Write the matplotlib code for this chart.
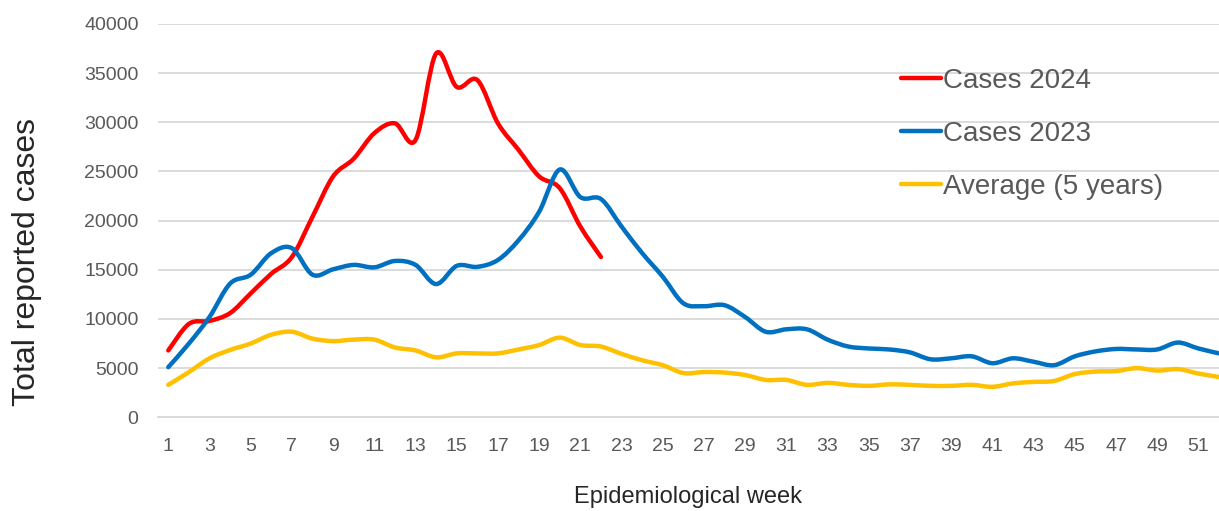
import matplotlib
matplotlib.use("Agg")
import matplotlib.pyplot as plt
from matplotlib.path import Path
from matplotlib.patches import PathPatch
from matplotlib.lines import Line2D
import numpy as np

plt.rcParams['font.family'] = ['Liberation Sans', 'DejaVu Sans']

weeks = list(range(1, 53))
tick_weeks = list(range(1, 52, 2))

cases_2024 = [6800, 9500, 9800, 10600, 12600, 14600, 16300, 20400, 24500, 26300,
              28900, 29900, 28200, 37000, 33600, 34300, 29900, 27200, 24500, 23300,
              19400, 16300]

cases_2023 = [5100, 7500, 10200, 13600, 14500, 16700, 17200, 14500, 15050, 15500,
              15250, 15900, 15500, 13550, 15400, 15300, 16000, 18000, 20900, 25200,
              22400, 22200, 19400, 16700, 14300, 11600, 11300, 11400, 10200, 8700,
              8950, 8950, 7900, 7200, 7000, 6900, 6600, 5900, 6000, 6200,
              5500, 6000, 5650, 5300, 6200, 6700, 6950, 6900, 6900, 7600,
              7000, 6500]

average_5y = [3300, 4600, 6000, 6850, 7500, 8400, 8700, 8000, 7750, 7900,
              7900, 7100, 6800, 6100, 6500, 6500, 6500, 6900, 7350, 8100,
              7350, 7200, 6450, 5800, 5300, 4500, 4600, 4550, 4300, 3800,
              3800, 3300, 3500, 3300, 3200, 3350, 3300, 3200, 3200, 3300,
              3100, 3450, 3600, 3700, 4400, 4650, 4700, 5000, 4750, 4900,
              4450, 4100]

labels = ["Cases 2024", "Cases 2023", "Average (5 years)"]
colors = ["#FF0000", "#0070C0", "#FFC000"]


def smooth_path(x, y):
    # Excel-style smoothed line: cubic Bezier segments through the data points
    pts = np.column_stack([x, y]).astype(float)
    n = len(pts)
    verts = [pts[0]]
    codes = [Path.MOVETO]
    for i in range(n - 1):
        p_prev = pts[i - 1] if i > 0 else pts[i]
        p0 = pts[i]
        p1 = pts[i + 1]
        p_next = pts[i + 2] if i + 2 < n else pts[i + 1]
        c1 = p0 + (p1 - p_prev) / 6.0
        c2 = p1 - (p_next - p0) / 6.0
        verts += [c1, c2, p1]
        codes += [Path.CURVE4] * 3
    return Path(verts, codes)


fig = plt.figure(figsize=(12.19, 5.11), dpi=100)
ax = fig.add_axes([158 / 1219, (511 - 417.3) / 511, (1219 - 158) / 1219, (417.3 - 24) / 511])

series = [cases_2024, cases_2023, average_5y]
for vals, col in zip(series, colors):
    p = smooth_path(weeks[:len(vals)], vals)
    ax.add_patch(PathPatch(p, fill=False, edgecolor=col, lw=3.2,
                           capstyle='round', joinstyle='round', zorder=3))

ax.set_xlim(0.5, 52.0)
ax.set_ylim(0, 40000)
ax.set_yticks(range(0, 40001, 5000))
ax.set_xticks(tick_weeks)
ax.set_xticklabels([str(w) for w in tick_weeks])
ax.grid(axis='y', color='#d9d9d9', lw=1.3, zorder=0)
ax.set_axisbelow(True)
for s in ['top', 'right', 'left']:
    ax.spines[s].set_visible(False)
ax.spines['bottom'].set_color('#d9d9d9')
ax.spines['bottom'].set_linewidth(1.3)
ax.tick_params(axis='both', length=0, labelsize=14, labelcolor='#595959')
ax.tick_params(axis='x', pad=15)
ax.tick_params(axis='y', pad=14)

ax.set_ylabel("Total reported cases", fontsize=23, color='#262626')
ax.yaxis.set_label_coords((42 - 158) / 1061, (417.3 - 262) / 393.3)
ax.set_xlabel("Epidemiological week", fontsize=17, color='#262626', labelpad=22)

handles = [Line2D([], [], color=c, lw=3.2, solid_capstyle='round') for c in colors]
leg = fig.legend(handles, labels, loc='upper left',
                 bbox_to_anchor=(890 / 1219, (511 - 57) / 511),
                 frameon=False, fontsize=20, handlelength=1.45, handletextpad=0.05,
                 labelspacing=0.97, borderaxespad=0)
for t in leg.get_texts():
    t.set_color('#595959')

fig.savefig("out.png", dpi=100)
